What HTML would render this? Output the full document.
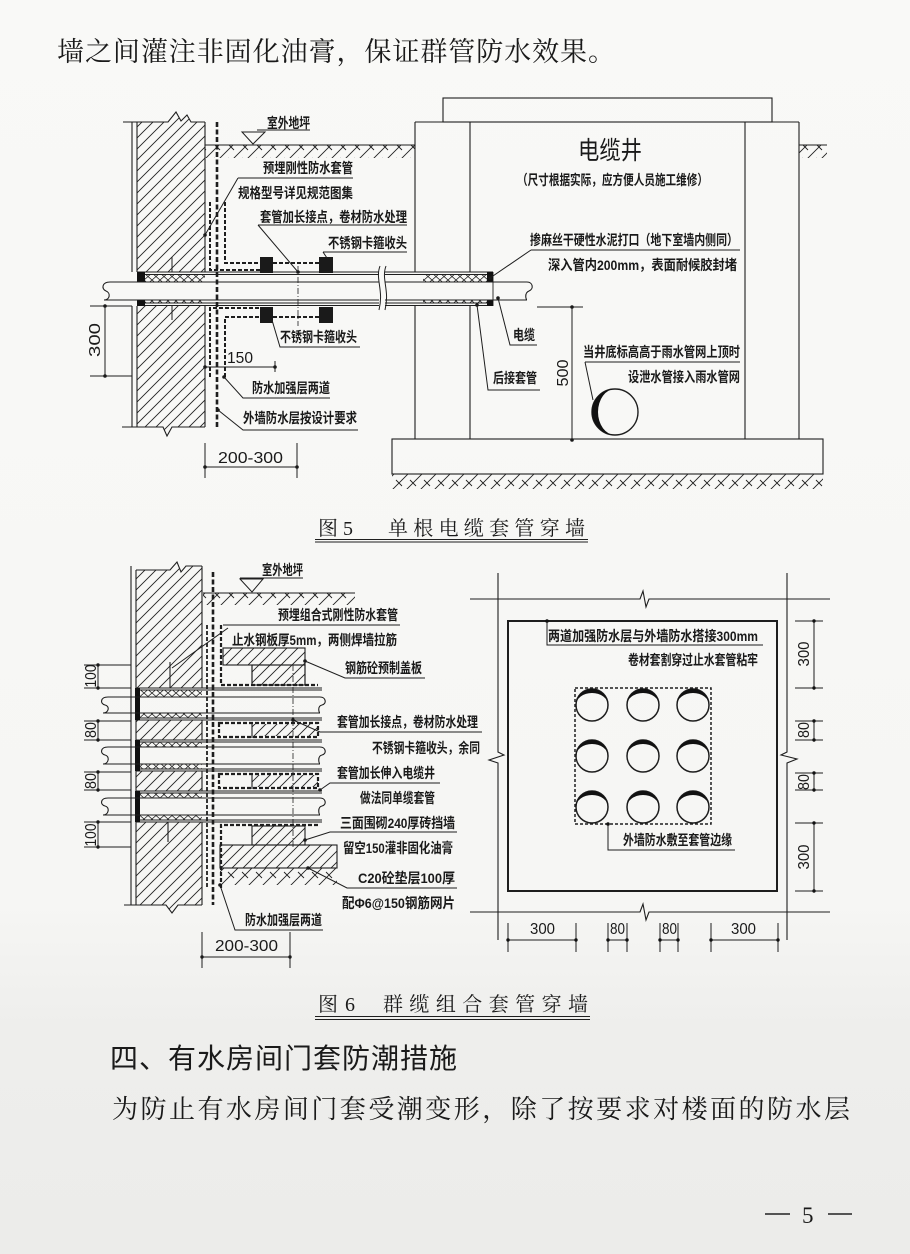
<!DOCTYPE html>
<html><head><meta charset="utf-8">
<style>
html,body{margin:0;padding:0;background:#f8f8f6;}
svg{display:block}
.l{font-family:"Liberation Sans","Noto Sans CJK SC",sans-serif;font-weight:bold;font-size:14px;fill:#1a1a1a}
.d{font-family:"Liberation Sans",sans-serif;font-size:16px;fill:#1a1a1a}
.s{font-family:"Liberation Serif","Noto Serif CJK SC",serif;fill:#1a1a1a}
.h{font-family:"Liberation Sans","Noto Sans CJK SC",sans-serif;fill:#1a1a1a}
</style></head><body>
<svg width="910" height="1254" viewBox="0 0 910 1254" xmlns="http://www.w3.org/2000/svg">
<defs>
<pattern id="h" patternUnits="userSpaceOnUse" width="11" height="11"><path d="M-1,12 L12,-1 M-3,3 L3,-3 M8,14 L14,8" stroke="#222" stroke-width="0.9" fill="none"/></pattern>
<pattern id="e" patternUnits="userSpaceOnUse" width="14" height="14"><path d="M0,14 L14,0 M4,4 L10,10 M-1,1 L1,-1 M13,15 L15,13" stroke="#222" stroke-width="0.9" fill="none"/></pattern>
<pattern id="x" patternUnits="userSpaceOnUse" width="8" height="7"><path d="M0,0 L8,7 M0,7 L8,0" stroke="#222" stroke-width="0.8" fill="none"/></pattern>
<linearGradient id="bg" x1="0" y1="0" x2="0" y2="1"><stop offset="0" stop-color="#f9f9f7"/><stop offset="0.72" stop-color="#f6f6f4"/><stop offset="0.82" stop-color="#eeeeec"/><stop offset="1" stop-color="#ececea"/></linearGradient>
</defs>
<rect width="910" height="1254" fill="url(#bg)"/>

<!-- top text -->
<text class="s" x="57" y="61" font-size="27" textLength="558" lengthAdjust="spacing">墙之间灌注非固化油膏，保证群管防水效果。</text>

<!-- ================= FIG 5 ================= -->
<g stroke="#1e1e1e" stroke-width="1.1" fill="none">
<!-- wall -->
<path d="M137,122 L168,122 L176,112 L181,121 L187,115 L191,122 L205,122 L205,272 L137,272Z M137,306 L205,306 L205,427 L172,427 L167,436 L163,427 L137,427Z" fill="url(#h)" stroke="none"/>
<path d="M137,122 L168,122 L176,112 L181,121 L187,115 L191,122 L205,122 M205,427 L172,427 L167,436 L163,427 L122,427 M123,122 H137"/>
<path d="M132,122 V272 M132,306 V427 M137,122 V272 M137,306 V427 M205,122 V272 M205,306 V427"/>
<path d="M172,257 V272 M172,306 V320" stroke-width="1"/>
<!-- ground -->
<rect x="205" y="145" width="210" height="13" fill="url(#e)" stroke="none"/>
<path d="M205,145 H415"/>
<rect x="799" y="145" width="28" height="13" fill="url(#e)" stroke="none"/>
<path d="M799,145 H827"/>
<!-- ext waterproof -->
<path d="M217,122 V427" stroke-width="2.6" stroke-dasharray="5 2.5"/>
<!-- reinforcement L -->
<path d="M210,202 V270 H260 M225,202 V263 H260 M273,263 H319 M210,377 V308 H260 M225,377 V317 H260 M273,317 H319" stroke-width="2" stroke-dasharray="4 2"/>
<!-- clamps -->
<g fill="#1a1a1a" stroke="none">
<rect x="260" y="257" width="13" height="16"/><rect x="319" y="257" width="14" height="16"/>
<rect x="260" y="307" width="13" height="16"/><rect x="319" y="307" width="14" height="16"/>
</g>
<path d="M298,266 V326" stroke-width="0.8" stroke-dasharray="6 2 1 2"/>
<!-- sleeve -->
<rect x="145" y="275" width="60" height="7" fill="url(#x)" stroke="none"/>
<rect x="145" y="300" width="60" height="3" fill="url(#x)" stroke="none"/>
<rect x="423" y="275" width="64" height="7" fill="url(#x)" stroke="none"/>
<rect x="423" y="300" width="64" height="3" fill="url(#x)" stroke="none"/>
<path d="M137,272 H379 M385,272 H493 M137,274.5 H379 M385,274.5 H493 M137,303 H379 M385,303 H493 M137,305.5 H379 M385,305.5 H493 M493,272 V306" stroke-width="0.9"/>
<g fill="#111" stroke="none">
<rect x="137" y="272" width="8" height="10"/><rect x="137" y="300" width="8" height="6"/>
<rect x="487" y="272" width="6" height="10"/><rect x="487" y="300" width="6" height="6"/>
</g>
<!-- pipe -->
<path d="M110,282 H379 M385,282 H527 M104,300 H379 M385,300 H527"/>
<path d="M110,282 C102,282 101,289 106,291 C111,293 110,300 104,300"/>
<path d="M527,282 C533,282 534,289 529,291 C524,293 526,300 527,300"/>
<path d="M380,266 C375,279 384,290 379,310 M386,266 C381,279 390,290 385,310" stroke-width="1"/>
<!-- well -->
<rect x="443" y="98" width="329" height="24"/>
<path d="M415,122 H799 M415,122 V272 M415,306 V439 M470,122 V272 M470,306 V439 M745,122 V439 M799,122 V439"/>
<rect x="392" y="439" width="431" height="35"/>
<rect x="392" y="474" width="431" height="15" fill="url(#e)" stroke="none"/>
<!-- drain -->
<circle cx="615" cy="412" r="23" stroke-width="1.4"/>
<path d="M615,389 A23,23 0 0 0 615,435 A17,23 0 0 1 615,389Z" fill="#111" stroke="none"/>
<!-- dim 500 -->
<path d="M572,307 V440 M537,307 H583" stroke-width="1"/>
<!-- dims left -->
<path d="M105,306 V376 M90,306 H132 M90,376 H132 M205,367 H275 M275,361 V372 M205,467 H297 M205,443 V478 M297,443 V478" stroke-width="1"/>
<!-- leaders & underlines -->
<path d="M257,130 H310 M242,132 H265 L253,144 Z" stroke-width="1"/>
<path d="M238,178 H353 M238,178 L205,235 M258,225 H407 M258,225 L298,272 M323,252 H407 M323,252 L327,258 M272,320 L280,347 H360 M224,377 L243,398 H330 M218,410 L243,430 H358" stroke-width="1"/>
<path d="M531,250 H740 M531,250 L490,278 M498,298 L510,345 H537 M477,305 L488,390 H540 M585,362 H740 M585,362 L593,400" stroke-width="1"/>
</g>
<g fill="#1a1a1a">
<circle cx="105" cy="306" r="1.8"/><circle cx="105" cy="376" r="1.8"/>
<circle cx="205" cy="367" r="1.8"/><circle cx="275" cy="367" r="1.8"/>
<circle cx="205" cy="467" r="1.8"/><circle cx="297" cy="467" r="1.8"/>
<circle cx="572" cy="307" r="1.8"/><circle cx="572" cy="440" r="1.8"/>
<circle cx="298" cy="272" r="1.8"/><circle cx="490" cy="278" r="1.8"/><circle cx="498" cy="298" r="1.8"/><circle cx="477" cy="305" r="1.8"/>
<circle cx="224" cy="377" r="1.8"/><circle cx="218" cy="410" r="1.8"/><circle cx="205" cy="235" r="1.8"/>
</g>
<!-- fig5 labels -->
<text class="l" x="267" y="128" textLength="43" lengthAdjust="spacingAndGlyphs">室外地坪</text>
<text class="l" x="263" y="173" textLength="90" lengthAdjust="spacingAndGlyphs">预埋刚性防水套管</text>
<text class="l" x="238" y="198" textLength="115" lengthAdjust="spacingAndGlyphs">规格型号详见规范图集</text>
<text class="l" x="260" y="222" textLength="147" lengthAdjust="spacingAndGlyphs">套管加长接点，卷材防水处理</text>
<text class="l" x="328" y="248" textLength="79" lengthAdjust="spacingAndGlyphs">不锈钢卡箍收头</text>
<text class="l" x="280" y="342" textLength="77" lengthAdjust="spacingAndGlyphs">不锈钢卡箍收头</text>
<text class="l" x="252" y="393" textLength="78" lengthAdjust="spacingAndGlyphs">防水加强层两道</text>
<text class="l" x="243" y="423" textLength="114" lengthAdjust="spacingAndGlyphs">外墙防水层按设计要求</text>
<text class="h" x="578" y="159" font-size="25" textLength="64" lengthAdjust="spacingAndGlyphs">电缆井</text>
<text class="l" x="517" y="185" textLength="191" lengthAdjust="spacingAndGlyphs">（尺寸根据实际，应方便人员施工维修）</text>
<text class="l" x="530" y="245" textLength="208" lengthAdjust="spacingAndGlyphs">掺麻丝干硬性水泥打口（地下室墙内侧同）</text>
<text class="l" x="548" y="270" textLength="189" lengthAdjust="spacingAndGlyphs">深入管内200mm，表面耐候胶封堵</text>
<text class="l" x="513" y="340" textLength="22" lengthAdjust="spacingAndGlyphs">电缆</text>
<text class="l" x="493" y="383" textLength="44" lengthAdjust="spacingAndGlyphs">后接套管</text>
<text class="l" x="583" y="357" textLength="157" lengthAdjust="spacingAndGlyphs">当井底标高高于雨水管网上顶时</text>
<text class="l" x="628" y="382" textLength="112" lengthAdjust="spacingAndGlyphs">设泄水管接入雨水管网</text>
<text class="d" x="227" y="363" font-size="18" textLength="26" lengthAdjust="spacingAndGlyphs">150</text>
<text class="d" x="218" y="463" font-size="19" textLength="65" lengthAdjust="spacingAndGlyphs">200-300</text>
<text class="d" transform="translate(100,340) rotate(-90)" text-anchor="middle" textLength="34" lengthAdjust="spacingAndGlyphs">300</text>
<text class="d" transform="translate(568,373) rotate(-90)" text-anchor="middle" font-size="17" textLength="27" lengthAdjust="spacingAndGlyphs">500</text>

<!-- caption 5 -->
<text class="s" x="318" y="535" font-size="20">图</text>
<text class="s" x="343" y="535" font-size="20">5</text>
<text class="s" x="388" y="535" font-size="20" textLength="197" lengthAdjust="spacing">单根电缆套管穿墙</text>
<path d="M315,539.5 H588 M315,542 H588" stroke="#1e1e1e" stroke-width="1"/>

<!-- ================= FIG 6 LEFT ================= -->
<g stroke="#1e1e1e" stroke-width="1.1" fill="none">
<path d="M136,570 L170,570 L177,562 L181,572 L186,566 L202,566 L202,688 L136,688Z M136,720 H202 V740 H136Z M136,771 H202 V791 H136Z M136,822 H202 V905 L178,905 L172,913 L166,905 L136,905Z" fill="url(#h)" stroke="none"/>
<path d="M136,570 L170,570 L177,562 L181,572 L186,566 L202,566 M202,905 L178,905 L172,913 L166,905 L124,905"/>
<path d="M131,566 V905 M136,570 V688 M136,720 V740 M136,771 V791 M136,822 V905 M202,566 V688 M202,720 V740 M202,771 V791 M202,822 V905 M170,662 V688 M168,822 V842"/>
<!-- ground -->
<rect x="203" y="593" width="152" height="12" fill="url(#e)" stroke="none"/>
<path d="M203,593 H355"/>
<!-- waterproof -->
<path d="M213,572 V905" stroke-width="2.6" stroke-dasharray="5 2.5"/>
<path d="M207,625 V888" stroke-width="1.8" stroke-dasharray="4 2"/>
<path d="M221,625 V685 H318 M219,723 H318 V737 H219 Z M219,774 H318 V788 H219 Z M221,888 V825 H318" stroke-width="2.2" stroke-dasharray="4 2"/>
<!-- cover plate & bricks -->
<rect x="223" y="648" width="82" height="17" fill="url(#h)"/>
<rect x="252" y="665" width="53" height="20" fill="url(#h)"/>
<path d="M252,665 V685 M305,665 V685"/>
<rect x="252" y="724" width="66" height="12" fill="url(#h)" stroke="none"/>
<rect x="252" y="775" width="66" height="12" fill="url(#h)" stroke="none"/>
<path d="M252,722 V738 M252,773 V789"/>
<rect x="252" y="826" width="53" height="19" fill="url(#h)"/>
<rect x="220" y="845" width="117" height="23" fill="url(#h)"/>
<rect x="220" y="868" width="117" height="17" fill="url(#e)" stroke="none"/>
<!-- sleeves -->
<rect x="140" y="690" width="62" height="7" fill="url(#x)" stroke="none"/>
<rect x="140" y="713" width="62" height="5" fill="url(#x)" stroke="none"/>
<rect x="140" y="742" width="62" height="5" fill="url(#x)" stroke="none"/>
<rect x="140" y="764" width="62" height="5" fill="url(#x)" stroke="none"/>
<rect x="140" y="793" width="62" height="5" fill="url(#x)" stroke="none"/>
<rect x="140" y="815" width="62" height="5" fill="url(#x)" stroke="none"/>
<path d="M136,688 H322 M136,690 H322 M136,718 H322 M136,720 H322 M136,740 H322 M136,742 H322 M136,769 H322 M136,771 H322 M136,791 H322 M136,793 H322 M136,820 H322 M136,822 H322" stroke-width="0.9"/>
<g fill="#111" stroke="none">
<rect x="135" y="688" width="5" height="32"/><rect x="135" y="740" width="5" height="31"/><rect x="135" y="791" width="5" height="31"/>
</g>
<!-- pipes -->
<path d="M108,697 H320 M103,713 H320 M108,747 H320 M103,764 H320 M108,798 H320 M103,815 H320"/>
<path d="M108,697 C100,697 100,704 105,705 C110,706 109,713 103,713 M108,747 C100,747 100,754 105,755 C110,756 109,764 103,764 M108,798 C100,798 100,805 105,806 C110,807 109,815 103,815"/>
<path d="M320,697 C326,697 327,704 322,705 C317,706 319,713 320,713 M320,747 C326,747 327,754 322,755 C317,756 319,764 320,764 M320,798 C326,798 327,805 322,806 C317,807 319,815 320,815"/>
<path d="M293,665 V848" stroke-width="0.8" stroke-dasharray="6 2 1 2"/>
<!-- dims -->
<path d="M98,665 V688 M98,721 V740 M98,772 V790 M98,822 V847 M84,665 H131 M84,688 H131 M84,721 H131 M84,740 H131 M84,772 H131 M84,790 H131 M84,822 H131 M84,847 H131" stroke-width="1"/>
<path d="M202,957 H290 M202,932 V968 M290,932 V968" stroke-width="1"/>
<!-- leaders -->
<path d="M240,578 H303 M240,579 H263 L252,592 Z" stroke-width="1"/>
<path d="M223,625 H400 M228,628 L172,668 M305,661 L345,678 H425 M293,720 L320,732 H482 M320,790 L330,783 H440 M305,840 L330,832 H457 M308,868 L347,888 H457 M220,885 L235,930 H323" stroke-width="1"/>
</g>
<g fill="#1a1a1a">
<circle cx="98" cy="665" r="1.7"/><circle cx="98" cy="688" r="1.7"/><circle cx="98" cy="721" r="1.7"/><circle cx="98" cy="740" r="1.7"/>
<circle cx="98" cy="772" r="1.7"/><circle cx="98" cy="790" r="1.7"/><circle cx="98" cy="822" r="1.7"/><circle cx="98" cy="847" r="1.7"/>
<circle cx="202" cy="957" r="1.7"/><circle cx="290" cy="957" r="1.7"/>
<circle cx="305" cy="661" r="1.8"/><circle cx="293" cy="720" r="1.8"/><circle cx="320" cy="790" r="1.8"/><circle cx="305" cy="840" r="1.8"/><circle cx="308" cy="868" r="1.8"/><circle cx="220" cy="885" r="1.8"/>
</g>
<text class="l" x="262" y="575" textLength="41" lengthAdjust="spacingAndGlyphs">室外地坪</text>
<text class="l" x="278" y="620" textLength="120" lengthAdjust="spacingAndGlyphs">预埋组合式刚性防水套管</text>
<text class="l" x="232" y="645" textLength="165" lengthAdjust="spacingAndGlyphs">止水钢板厚5mm，两侧焊墙拉筋</text>
<text class="l" x="345" y="673" textLength="77" lengthAdjust="spacingAndGlyphs">钢筋砼预制盖板</text>
<text class="l" x="337" y="727" textLength="141" lengthAdjust="spacingAndGlyphs">套管加长接点，卷材防水处理</text>
<text class="l" x="372" y="753" textLength="108" lengthAdjust="spacingAndGlyphs">不锈钢卡箍收头，余同</text>
<text class="l" x="337" y="778" textLength="98" lengthAdjust="spacingAndGlyphs">套管加长伸入电缆井</text>
<text class="l" x="360" y="803" textLength="75" lengthAdjust="spacingAndGlyphs">做法同单缆套管</text>
<text class="l" x="340" y="828" textLength="115" lengthAdjust="spacingAndGlyphs">三面围砌240厚砖挡墙</text>
<text class="l" x="343" y="853" textLength="110" lengthAdjust="spacingAndGlyphs">留空150灌非固化油膏</text>
<text class="l" x="358" y="883" textLength="97" lengthAdjust="spacingAndGlyphs">C20砼垫层100厚</text>
<text class="l" x="342" y="908" textLength="113" lengthAdjust="spacingAndGlyphs">配Φ6@150钢筋网片</text>
<text class="l" x="245" y="925" textLength="77" lengthAdjust="spacingAndGlyphs">防水加强层两道</text>
<text class="d" x="215" y="951" font-size="19" textLength="63" lengthAdjust="spacingAndGlyphs">200-300</text>
<text class="d" transform="translate(96,676) rotate(-90)" text-anchor="middle" textLength="23" lengthAdjust="spacingAndGlyphs">100</text>
<text class="d" transform="translate(96,730) rotate(-90)" text-anchor="middle" textLength="16" lengthAdjust="spacingAndGlyphs">80</text>
<text class="d" transform="translate(96,781) rotate(-90)" text-anchor="middle" textLength="16" lengthAdjust="spacingAndGlyphs">80</text>
<text class="d" transform="translate(96,835) rotate(-90)" text-anchor="middle" textLength="23" lengthAdjust="spacingAndGlyphs">100</text>

<!-- ================= FIG 6 RIGHT ================= -->
<g stroke="#1e1e1e" stroke-width="1.1" fill="none">
<path d="M498,573 V752 L504,755 L489,760 L498,763 V940"/>
<path d="M787,573 V752 L781,755 L797,759 L787,763 V940"/>
<path d="M470,599 H640 L643,591 L646,607 L649,599 H830"/>
<path d="M470,912 H640 L643,904 L646,920 L649,912 H830"/>
<rect x="508" y="621" width="269" height="270" stroke-width="2"/>
<path d="M547,621 V645 H763" stroke-width="1"/>
<rect x="575" y="688" width="136" height="136" stroke-width="1.5" stroke-dasharray="3 2"/>
<path d="M608,824 V850 H735" stroke-width="1"/>
<g stroke-width="1.5">
<circle cx="592" cy="705" r="16"/><circle cx="643" cy="705" r="16"/><circle cx="693" cy="705" r="16"/>
<circle cx="592" cy="756" r="16"/><circle cx="643" cy="756" r="16"/><circle cx="693" cy="756" r="16"/>
<circle cx="592" cy="807" r="16"/><circle cx="643" cy="807" r="16"/><circle cx="693" cy="807" r="16"/>
</g>
<!-- dims -->
<path d="M814,621 V688 M814,721 V740 M814,773 V790 M814,823 V891 M795,621 H823 M795,688 H823 M795,721 H823 M795,740 H823 M795,773 H823 M795,790 H823 M795,823 H823 M795,891 H823" stroke-width="1"/>
<path d="M508,940 H576 M608,940 H627 M660,940 H678 M711,940 H778 M508,923 V952 M576,923 V952 M608,923 V952 M627,923 V952 M660,923 V952 M678,923 V952 M711,923 V952 M778,923 V952" stroke-width="1"/>
</g>
<g fill="#111">
<path d="M576,705 A16,16 0 0 1 608,705 A16,12 0 0 0 576,705Z"/><path d="M627,705 A16,16 0 0 1 659,705 A16,12 0 0 0 627,705Z"/><path d="M677,705 A16,16 0 0 1 709,705 A16,12 0 0 0 677,705Z"/>
<path d="M576,756 A16,16 0 0 1 608,756 A16,12 0 0 0 576,756Z"/><path d="M627,756 A16,16 0 0 1 659,756 A16,12 0 0 0 627,756Z"/><path d="M677,756 A16,16 0 0 1 709,756 A16,12 0 0 0 677,756Z"/>
<path d="M576,807 A16,16 0 0 1 608,807 A16,12 0 0 0 576,807Z"/><path d="M627,807 A16,16 0 0 1 659,807 A16,12 0 0 0 627,807Z"/><path d="M677,807 A16,16 0 0 1 709,807 A16,12 0 0 0 677,807Z"/>
<circle cx="547" cy="621" r="1.8"/><circle cx="608" cy="824" r="1.8"/>
<circle cx="814" cy="621" r="1.7"/><circle cx="814" cy="688" r="1.7"/><circle cx="814" cy="721" r="1.7"/><circle cx="814" cy="740" r="1.7"/>
<circle cx="814" cy="773" r="1.7"/><circle cx="814" cy="790" r="1.7"/><circle cx="814" cy="823" r="1.7"/><circle cx="814" cy="891" r="1.7"/>
<circle cx="508" cy="940" r="1.7"/><circle cx="576" cy="940" r="1.7"/><circle cx="608" cy="940" r="1.7"/><circle cx="627" cy="940" r="1.7"/>
<circle cx="660" cy="940" r="1.7"/><circle cx="678" cy="940" r="1.7"/><circle cx="711" cy="940" r="1.7"/><circle cx="778" cy="940" r="1.7"/>
</g>
<text class="l" x="548" y="641" textLength="210" lengthAdjust="spacingAndGlyphs">两道加强防水层与外墙防水搭接300mm</text>
<text class="l" x="628" y="665" textLength="130" lengthAdjust="spacingAndGlyphs">卷材套割穿过止水套管粘牢</text>
<text class="l" x="623" y="845" textLength="109" lengthAdjust="spacingAndGlyphs">外墙防水敷至套管边缘</text>
<text class="d" x="530" y="934" textLength="25" lengthAdjust="spacingAndGlyphs">300</text>
<text class="d" x="610" y="934" textLength="15" lengthAdjust="spacingAndGlyphs">80</text>
<text class="d" x="662" y="934" textLength="15" lengthAdjust="spacingAndGlyphs">80</text>
<text class="d" x="731" y="934" textLength="25" lengthAdjust="spacingAndGlyphs">300</text>
<text class="d" transform="translate(809,654) rotate(-90)" text-anchor="middle" textLength="25" lengthAdjust="spacingAndGlyphs">300</text>
<text class="d" transform="translate(809,730) rotate(-90)" text-anchor="middle" textLength="16" lengthAdjust="spacingAndGlyphs">80</text>
<text class="d" transform="translate(809,782) rotate(-90)" text-anchor="middle" textLength="16" lengthAdjust="spacingAndGlyphs">80</text>
<text class="d" transform="translate(809,857) rotate(-90)" text-anchor="middle" textLength="25" lengthAdjust="spacingAndGlyphs">300</text>

<!-- caption 6 -->
<text class="s" x="318" y="1011" font-size="20">图</text>
<text class="s" x="345" y="1011" font-size="20">6</text>
<text class="s" x="383" y="1011" font-size="20" textLength="205" lengthAdjust="spacing">群缆组合套管穿墙</text>
<path d="M315,1016.5 H590 M315,1019.5 H590" stroke="#1e1e1e" stroke-width="1"/>

<!-- heading & body -->
<text class="h" x="110" y="1068" font-size="28" textLength="347" lengthAdjust="spacing">四、有水房间门套防潮措施</text>
<text class="s" x="112" y="1118" font-size="26" textLength="738" lengthAdjust="spacing">为防止有水房间门套受潮变形，除了按要求对楼面的防水层</text>

<!-- page number -->
<path d="M765,1214 H790 M828,1214 H852" stroke="#222" stroke-width="1.4"/>
<text class="s" x="802" y="1223" font-size="23">5</text>
</svg>
</body></html>
